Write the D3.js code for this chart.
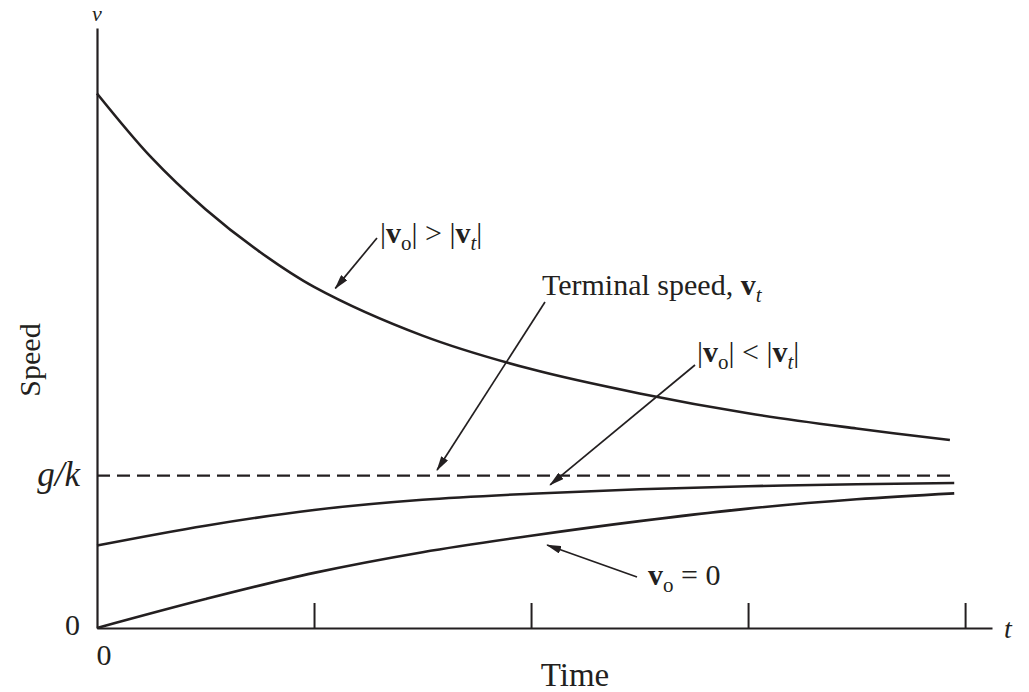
<!DOCTYPE html>
<html>
<head>
<meta charset="utf-8">
<script src="https://cdn.jsdelivr.net/npm/d3@7/dist/d3.min.js"></script>
<style>
  html, body { margin: 0; padding: 0; background: #fff; }
  svg text { font-family: "Liberation Serif", "Times New Roman", serif; fill: #231f20; }
</style>
</head>
<body>
<svg id="chart" width="1029" height="692"></svg>
<script>
// Time samples (in units of the tick spacing) and speeds (in units of g/k)
const timesFast = [0, 0.25, 0.5, 0.75, 1, 1.5, 2, 2.5, 3, 3.5, 3.93];
const speedFast = [3.51, 3.09, 2.75, 2.47, 2.24, 1.92, 1.70, 1.54, 1.41, 1.31, 1.234];

const timesSlow = [0, 0.5, 1, 1.5, 2, 2.5, 3, 3.5, 3.95];
const speedSlow = [0.542, 0.672, 0.775, 0.842, 0.882, 0.911, 0.931, 0.944, 0.952];
const speedRest = [0, 0.19, 0.362, 0.498, 0.606, 0.702, 0.784, 0.845, 0.884];

const terminalSpeed = 1;          // g/k
const terminalEnd = 3.95;
const xTicks = [1, 2, 3, 4];
const yTickValues = [0, terminalSpeed];
const yTickLabels = ["0", "g/k"];

const svg = d3.select("#chart");
const ink = "#231f20";

const x = d3.scaleLinear().domain([0, 4.124]).range([97, 992]);
const y = d3.scaleLinear().domain([0, 3.94]).range([628, 28]);

// arrowhead
svg.append("defs").append("marker")
  .attr("id", "arrow")
  .attr("markerUnits", "userSpaceOnUse")
  .attr("markerWidth", 15).attr("markerHeight", 8)
  .attr("refX", 14).attr("refY", 4)
  .attr("orient", "auto")
  .append("path")
  .attr("d", "M0,0 L15,4 L0,8 Z")
  .attr("fill", ink);

// x axis: ticks pointing up, no labels
const xAxis = svg.append("g")
  .attr("transform", `translate(0,${y(0)})`)
  .call(d3.axisBottom(x).tickValues(xTicks).tickSizeInner(-25).tickSizeOuter(0).tickFormat(""));
xAxis.select(".domain").attr("stroke", ink).attr("stroke-width", 2.2);
xAxis.selectAll(".tick line").attr("stroke", ink).attr("stroke-width", 2);

// y axis: labels only
const yAxis = svg.append("g")
  .attr("transform", `translate(${x(0)},0)`)
  .call(d3.axisLeft(y).tickValues(yTickValues).tickSize(0).tickPadding(17)
    .tickFormat((d, i) => yTickLabels[i]));
yAxis.select(".domain").attr("stroke", ink).attr("stroke-width", 2.2);
yAxis.selectAll(".tick text")
  .attr("font-family", "Liberation Serif")
  .attr("font-size", (d, i) => i === 1 ? 35 : 30)
  .attr("fill", ink)
  .attr("font-style", (d, i) => i === 1 ? "italic" : "normal")
  .attr("dy", (d, i) => i === 0 ? "0.2em" : "0.28em");

// origin label on the time axis
svg.append("text").attr("x", x(0) + 7).attr("y", 665)
  .attr("text-anchor", "middle").attr("font-size", 30).text("0");

// axis symbols
svg.append("text").attr("x", x(0)).attr("y", 21)
  .attr("text-anchor", "middle").attr("font-size", 22).attr("font-style", "italic").text("v");
svg.append("text").attr("x", 1008).attr("y", 638)
  .attr("text-anchor", "middle").attr("font-size", 28).attr("font-style", "italic").text("t");

// axis titles
svg.append("text").attr("x", 575).attr("y", 686)
  .attr("text-anchor", "middle").attr("font-size", 33).text("Time");
svg.append("text").attr("transform", "translate(40,360) rotate(-90)")
  .attr("text-anchor", "middle").attr("font-size", 30).text("Speed");

// terminal speed (dashed)
svg.append("line")
  .attr("x1", x(0)).attr("x2", x(terminalEnd))
  .attr("y1", y(terminalSpeed)).attr("y2", y(terminalSpeed))
  .attr("stroke", ink).attr("stroke-width", 2.2).attr("stroke-dasharray", "13,7");

// speed curves
const line = d3.line().x(d => x(d[0])).y(d => y(d[1])).curve(d3.curveCatmullRom.alpha(0.5));
const curves = [
  d3.zip(timesFast, speedFast),
  d3.zip(timesSlow, speedSlow),
  d3.zip(timesSlow, speedRest)
];
svg.selectAll("path.curve").data(curves).join("path")
  .attr("class", "curve")
  .attr("d", line)
  .attr("fill", "none").attr("stroke", ink).attr("stroke-width", 2.6);

// annotation arrows: [fromX, fromY, toT, toV]
const arrows = [
  [377, 238, 1.098, 2.23],
  [545, 302, 1.567, 1.037],
  [695, 365, 2.088, 0.94],
  [637, 577, 2.074, 0.545]
];
svg.selectAll("line.arrow").data(arrows).join("line")
  .attr("class", "arrow")
  .attr("x1", d => d[0]).attr("y1", d => d[1])
  .attr("x2", d => x(d[2])).attr("y2", d => y(d[3]))
  .attr("stroke", ink).attr("stroke-width", 1.7)
  .attr("marker-end", "url(#arrow)");

// annotation text with bold vectors and subscripts
function label(px, py, parts) {
  const t = svg.append("text").attr("x", px).attr("y", py).attr("font-size", 30);
  parts.forEach(p => {
    const s = t.append("tspan").text(p.s);
    if (p.b) s.attr("font-weight", "bold");
    if (p.i) s.attr("font-style", "italic");
    if (p.sub) s.attr("font-size", 21).attr("dy", 7);
    if (p.up) s.attr("dy", -7);
  });
}
label(380, 243, [
  {s: "|"}, {s: "v", b: true}, {s: "o", sub: true}, {s: "| > |", up: true},
  {s: "v", b: true}, {s: "t", i: true, sub: true}, {s: "|", up: true}
]);
label(542, 295, [
  {s: "Terminal speed, "}, {s: "v", b: true}, {s: "t", i: true, sub: true}
]);
label(697, 362, [
  {s: "|"}, {s: "v", b: true}, {s: "o", sub: true}, {s: "| < |", up: true},
  {s: "v", b: true}, {s: "t", i: true, sub: true}, {s: "|", up: true}
]);
label(648, 585, [
  {s: "v", b: true}, {s: "o", sub: true}, {s: " = 0", up: true}
]);
</script>
</body>
</html>
